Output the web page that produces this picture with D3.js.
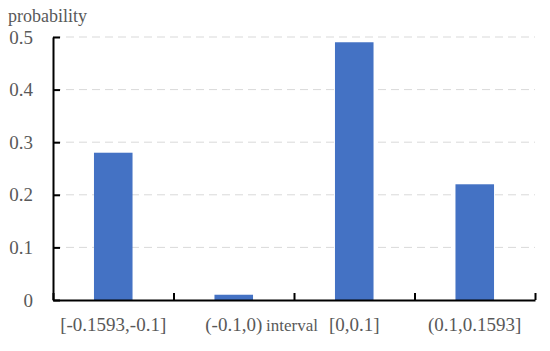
<!DOCTYPE html>
<html>
<head>
<meta charset="utf-8">
<script src="https://cdn.jsdelivr.net/npm/d3@7"></script>
<style>
  body { margin: 0; background: #fff; }
  text { font-family: "Liberation Serif", "DejaVu Serif", serif; fill: #595959; }
</style>
</head>
<body>
<script>
// données
const categories = ["[-0.1593,-0.1]", "(-0.1,0)", "[0,0.1]", "(0.1,0.1593]"];
const probabilities = [0.28, 0.01, 0.49, 0.22];
const yTicks = [0, 0.1, 0.2, 0.3, 0.4, 0.5];
const yTickLabels = ["0", "0.1", "0.2", "0.3", "0.4", "0.5"];

const width = 550, height = 351;
const plotLeft = 53, plotRight = 535, plotTop = 37, plotBottom = 300;

const svg = d3.select("body").append("svg")
    .attr("width", width)
    .attr("height", height);

const x = d3.scaleBand()
    .domain(categories)
    .range([plotLeft, plotRight])
    .paddingInner(0.68)
    .paddingOuter(0.34);

// échelle pour les graduations entre catégories
const xEdges = d3.scaleLinear().domain([0, categories.length]).range([plotLeft, plotRight]);

const y = d3.scaleLinear().domain([0, 0.5]).range([plotBottom, plotTop]);

// grille horizontale en pointillés
svg.append("g")
    .selectAll("line")
    .data(yTicks.slice(1))
    .enter()
    .append("line")
    .attr("x1", plotLeft)
    .attr("x2", plotRight)
    .attr("y1", d => y(d))
    .attr("y2", d => y(d))
    .style("stroke", "#d9d9d9")
    .style("stroke-width", 1)
    .style("stroke-dasharray", "8,5");

// barres
svg.append("g")
    .selectAll("rect")
    .data(categories)
    .enter()
    .append("rect")
    .attr("x", d => x(d))
    .attr("y", (d, i) => y(probabilities[i]))
    .attr("width", x.bandwidth())
    .attr("height", (d, i) => plotBottom - y(probabilities[i]))
    .style("fill", "#4472c4");

// axe vertical
const yAxis = svg.append("g")
    .attr("transform", `translate(${plotLeft},0)`)
    .call(d3.axisLeft(y)
        .tickValues(yTicks)
        .tickFormat((d, i) => yTickLabels[i])
        .tickSizeInner(-7)
        .tickSizeOuter(0)
        .tickPadding(20));
yAxis.selectAll("line, path").style("stroke", "#000").style("stroke-width", 2);
yAxis.selectAll("text").style("font-size", "19px").style("fill", "#595959")
    .style("font-family", "Liberation Serif");

// axe horizontal (graduations aux limites des intervalles)
const xAxis = svg.append("g")
    .attr("transform", `translate(0,${plotBottom})`)
    .call(d3.axisBottom(xEdges)
        .tickValues(d3.range(categories.length + 1))
        .tickFormat("")
        .tickSizeInner(-7)
        .tickSizeOuter(0));
xAxis.selectAll("line, path").style("stroke", "#000").style("stroke-width", 2);

// étiquettes des catégories
svg.append("g")
    .selectAll("text")
    .data(categories)
    .enter()
    .append("text")
    .attr("x", d => x(d) + x.bandwidth() / 2)
    .attr("y", 331)
    .attr("text-anchor", "middle")
    .style("font-size", "19px")
    .text(d => d);

// titres des axes
svg.append("text")
    .attr("x", 8)
    .attr("y", 22)
    .style("font-size", "18px")
    .text("probability");

svg.append("text")
    .attr("x", 266)
    .attr("y", 331)
    .style("font-size", "17px")
    .text("interval");
</script>
</body>
</html>
